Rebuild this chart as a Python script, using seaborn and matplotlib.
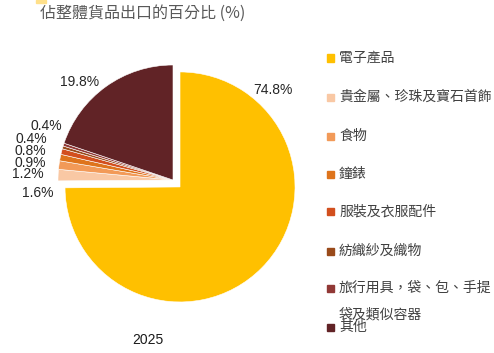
import matplotlib
matplotlib.use("Agg")
import matplotlib.pyplot as plt
import seaborn as sns
from matplotlib.patches import Rectangle

# data
categories = ['電子產品', '貴金屬、珍珠及寶石首飾', '食物', '鐘錶', '服裝及衣服配件',
              '紡織紗及織物', '旅行用具，袋、包、手提\n袋及類似容器', '其他']
shares = [74.8, 1.6, 1.2, 0.9, 0.8, 0.4, 0.4, 19.8]
pct_labels = ['74.8%', '1.6%', '1.2%', '0.9%', '0.8%', '0.4%', '0.4%', '19.8%']
year_label = '2025'
title = '佔整體貨品出口的百分比 (%)'

colors = ['#FFC000', '#F9C8A4', '#F29A58', '#DE741C', '#D24F1E',
          '#994A1A', '#913836', '#612326']

sns.set_theme(style='white')
plt.rcParams['font.family'] = ['Liberation Sans', 'Noto Sans CJK TC', 'DejaVu Sans']

W, H = 494, 353
fig = plt.figure(figsize=(W / 100, H / 100), dpi=100)

# pie axes: 115 px per unit, centre at pixel (173, 180)
cx, cy, r = 173, 180, 115
ax = fig.add_axes([(cx - 1.5 * r) / W, (H - cy - 1.5 * r) / H, 3 * r / W, 3 * r / H])

explode = [0.086, 0, 0, 0, 0, 0, 0, 0]
wedges, _ = ax.pie(shares, colors=colors, startangle=90, counterclock=False,
                   explode=explode, radius=1.0,
                   wedgeprops=dict(edgecolor='white', linewidth=0.4))
ax.set_xlim(-1.5, 1.5)
ax.set_ylim(-1.5, 1.5)
ax.set_aspect('equal')
ax.axis('off')

# percentage labels (positions)
label_pos = [(0.87, 0.78), (-1.18, -0.11), (-1.26, 0.05), (-1.24, 0.15),
             (-1.24, 0.25), (-1.23, 0.36), (-1.10, 0.47), (-0.81, 0.85)]
for (x, y), t in zip(label_pos, pct_labels):
    ax.text(x, y, t, ha='center', va='center', fontsize=10, color='#262626',
            family=['Liberation Sans'])

# title and year
fig.patches.append(Rectangle((36 / W, 1 - 3 / H), 10 / W, 3 / H, transform=fig.transFigure,
                             color='#FFE08A', zorder=0))
fig.text(40 / W, 1 - 13 / H, title, ha='left', va='center', fontsize=11.5,
         color='#595959', family=['Noto Sans CJK TC', 'Liberation Sans'])
fig.text(148 / W, 1 - 340 / H, year_label, ha='center', va='center', fontsize=10,
         color='#1a1a1a', family=['Liberation Sans'])

# legend drawn as squares + text
row_y = [58, 97, 136, 174, 212, 251, 288, 327]
for yy, lab, c in zip(row_y, categories, colors):
    fig.patches.append(Rectangle((327 / W, 1 - (yy + 3.5) / H), 7 / W, 7 / H,
                                 transform=fig.transFigure, color=c))
    lines = lab.split('\n')
    for i, ln in enumerate(lines):
        fig.text(339 / W, 1 - (yy + i * 26) / H, ln, ha='left', va='center',
                 fontsize=10, color='#404040',
                 family=['Noto Sans CJK TC', 'Liberation Sans'])

fig.savefig('out.png', dpi=100, facecolor='white')
